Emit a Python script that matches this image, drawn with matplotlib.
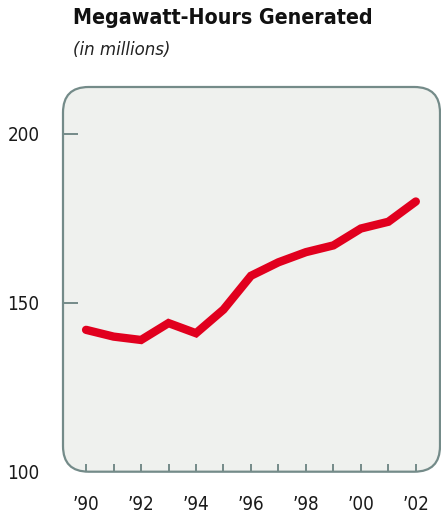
import matplotlib.pyplot as plt
from matplotlib.patches import FancyBboxPatch

years = [1990, 1991, 1992, 1993, 1994, 1995, 1996, 1997, 1998, 1999, 2000, 2001, 2002]
mwh = [142, 140, 139, 144, 141, 148, 158, 162, 165, 167, 172, 174, 180]
xtick_years = [1990, 1992, 1994, 1996, 1998, 2000, 2002]
xtick_labels = ["\u201990", "\u201992", "\u201994", "\u201996", "\u201998", "\u201900", "\u201902"]
yticks = [100, 150, 200]

fam = 'DejaVu Sans'
edge = '#748b89'
fill = '#eff1ee'
red = '#e1001e'
txt = dict(family=fam, stretch='condensed', color='#1a1a1a')

fig = plt.figure(figsize=(4.41, 5.15), dpi=100)
ax = fig.add_axes([63/441, 43.3/515, 377/441, 384.7/515])
ax.set_xlim(1989.16, 2002.88)
ax.set_ylim(100, 213.9)
ax.patch.set_visible(False)
for s in ax.spines.values():
    s.set_visible(False)

# rounded panel behind the line
box = FancyBboxPatch((0, 0), 1, 1, boxstyle="round,pad=0,rounding_size=0.068",
                     mutation_aspect=377/384.7, transform=ax.transAxes,
                     facecolor=fill, edgecolor=edge, linewidth=1.6, zorder=0, clip_on=False)
ax.add_patch(box)

ax.plot(years, mwh, color=red, linewidth=6, solid_capstyle='round', solid_joinstyle='miter', zorder=3)

ax.set_xticks(years)
ax.set_xticklabels(["" for _ in years])
ax.tick_params(axis='x', direction='in', length=6, width=1.4, color=edge, pad=0)
for y, lab in zip(xtick_years, xtick_labels):
    ax.text(y, -0.085, lab, transform=ax.get_xaxis_transform(), ha='center', va='center',
            fontsize=13.5, **txt)

ax.set_yticks(yticks)
ax.set_yticklabels([str(v) for v in yticks], fontsize=13.5, **txt)
ax.tick_params(axis='y', direction='in', length=10.5, width=1.4, color=edge, pad=17)
ax.yaxis.get_major_ticks()[0].tick1line.set_visible(False)

fig.text(73/441, 1 - 18/515, "Megawatt-Hours Generated", fontsize=15.3, fontweight='bold',
         family=fam, stretch='condensed', va='center', ha='left', color='#111111')
fig.text(73/441, 1 - 50/515, "(in millions)", fontsize=13.3, style='italic',
         family=fam, stretch='condensed', va='center', ha='left', color='#222222')

fig.savefig('out.png', dpi=100)
